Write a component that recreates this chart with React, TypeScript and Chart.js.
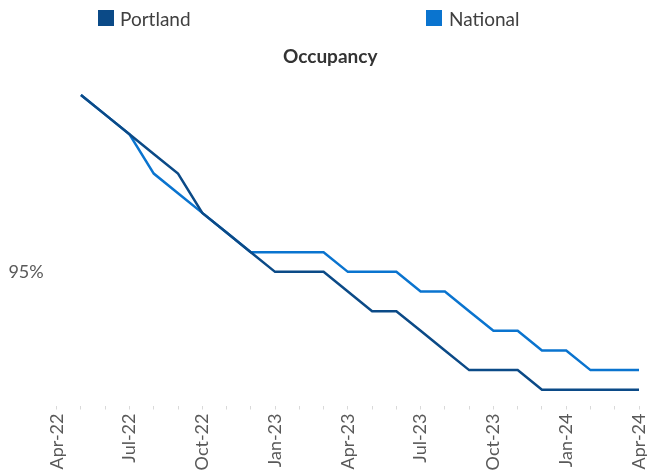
import React, { useEffect, useRef } from "react";
import { Chart, registerables } from "chart.js";

Chart.register(...registerables);

const months = [
  "Apr-22", "May-22", "Jun-22", "Jul-22", "Aug-22", "Sep-22", "Oct-22", "Nov-22", "Dec-22",
  "Jan-23", "Feb-23", "Mar-23", "Apr-23", "May-23", "Jun-23", "Jul-23", "Aug-23", "Sep-23",
  "Oct-23", "Nov-23", "Dec-23", "Jan-24", "Feb-24", "Mar-24", "Apr-24",
];

const portland: (number | null)[] = [
  null, 95.9, 95.8, 95.7, 95.6, 95.5, 95.3, 95.2, 95.1,
  95.0, 95.0, 95.0, 94.9, 94.8, 94.8, 94.7, 94.6, 94.5,
  94.5, 94.5, 94.4, 94.4, 94.4, 94.4, 94.4,
];

const national: (number | null)[] = [
  null, 95.9, 95.8, 95.7, 95.5, 95.4, 95.3, 95.2, 95.1,
  95.1, 95.1, 95.1, 95.0, 95.0, 95.0, 94.9, 94.9, 94.8,
  94.7, 94.7, 94.6, 94.6, 94.5, 94.5, 94.5,
];

const yTickValues = [95];
const seriesNames = ["Portland", "National"];
const seriesColors = ["#0B4A87", "#0A74CF"];
const chartTitle = "Occupancy";

export default function App() {
  const ref = useRef<HTMLCanvasElement>(null);

  useEffect(() => {
    document.body.style.margin = "0";
    const chart = new Chart(ref.current!, {
      type: "line",
      data: {
        labels: months,
        datasets: [
          {
            label: seriesNames[0],
            data: portland,
            borderColor: seriesColors[0],
            backgroundColor: seriesColors[0],
            borderWidth: 2.5,
            pointRadius: 0,
            tension: 0,
          },
          {
            label: seriesNames[1],
            data: national,
            borderColor: seriesColors[1],
            backgroundColor: seriesColors[1],
            borderWidth: 2.5,
            pointRadius: 0,
            tension: 0,
          },
        ],
      },
      options: {
        animation: false,
        responsive: false,
        layout: { padding: { top: 75.3, left: 0, right: 0, bottom: 0 } },
        plugins: {
          legend: { display: false },
          title: { display: false },
          tooltip: { enabled: false },
        },
        scales: {
          x: {
            type: "category",
            offset: false,
            border: { display: false },
            grid: {
              display: true,
              drawOnChartArea: false,
              drawTicks: true,
              tickLength: 4,
              color: "#d9d9d9",
              tickColor: "#d9d9d9",
            },
            ticks: {
              autoSkip: false,
              minRotation: 90,
              maxRotation: 90,
              padding: 4,
              color: "#595959",
              font: { family: "Lato", size: 18, lineHeight: 1 },
              callback: (_v: any, i: number) => (i % 3 === 0 ? months[i] : ""),
            },
            afterFit: (s: any) => {
              s.height = 69.5;
              s.paddingLeft = 0;
              s.paddingRight = 8;
            },
          },
          y: {
            min: 94.32,
            max: 96.0,
            border: { display: false },
            grid: { display: false, drawTicks: false },
            afterBuildTicks: (s: any) => {
              s.ticks = yTickValues.map((v) => ({ value: v }));
            },
            ticks: {
              padding: 13,
              color: "#595959",
              font: { family: "Lato", size: 18 },
              callback: (v: any) => `${v}%`,
            },
            afterFit: (s: any) => {
              s.width = 56.7;
            },
          },
        },
      },
    });
    return () => chart.destroy();
  }, []);

  const legendText: React.CSSProperties = {
    position: "absolute",
    top: 8.5,
    fontFamily: "Lato",
    fontSize: 19,
    lineHeight: "19px",
    color: "#404040",
    whiteSpace: "nowrap",
  };
  const box = (left: number, color: string): React.CSSProperties => ({
    position: "absolute",
    left,
    top: 9.5,
    width: 16,
    height: 16,
    background: color,
  });

  return (
    <div style={{ position: "relative", width: 647, height: 475, background: "#fff" }}>
      <canvas ref={ref} width={647} height={475} style={{ position: "absolute", left: 0, top: 0 }} />
      <div style={box(98, seriesColors[0])} />
      <div style={{ ...legendText, left: 120 }}>{seriesNames[0]}</div>
      <div style={box(426, seriesColors[1])} />
      <div style={{ ...legendText, left: 449 }}>{seriesNames[1]}</div>
      <div
        style={{
          position: "absolute",
          top: 45.8,
          left: 283,
          fontFamily: "Lato",
          fontWeight: 700,
          fontSize: 19,
          lineHeight: "19px",
          color: "#333333",
          whiteSpace: "nowrap",
        }}
      >
        {chartTitle}
      </div>
    </div>
  );
}
